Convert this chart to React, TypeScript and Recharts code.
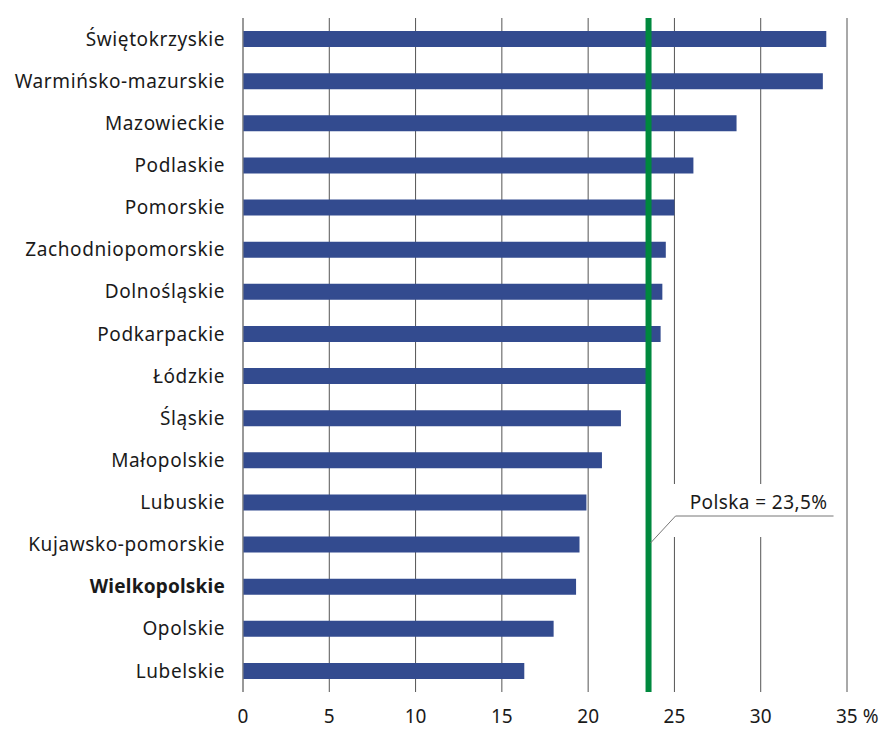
import React from 'react';
import { BarChart, Bar, XAxis, YAxis, CartesianGrid, ReferenceLine } from 'recharts';

const regions = [
  'Świętokrzyskie', 'Warmińsko-mazurskie', 'Mazowieckie', 'Podlaskie', 'Pomorskie',
  'Zachodniopomorskie', 'Dolnośląskie', 'Podkarpackie', 'Łódzkie', 'Śląskie',
  'Małopolskie', 'Lubuskie', 'Kujawsko-pomorskie', 'Wielkopolskie', 'Opolskie', 'Lubelskie',
];
const values = [33.8, 33.6, 28.6, 26.1, 25.0, 24.5, 24.3, 24.2, 23.4, 21.9, 20.8, 19.9, 19.5, 19.3, 18.0, 16.3];
const xTicks = [0, 5, 10, 15, 20, 25, 30, 35];
const polskaValue = 23.5;
const polskaLabel = 'Polska = 23,5%';
const highlighted = 'Wielkopolskie';

const data = regions.map((name, i) => ({ name, value: values[i] }));

const FONT = '"Noto Sans", sans-serif';

const YTick = (props: any) => {
  const { x, y, payload } = props;
  const bold = payload.value === highlighted;
  return (
    <text x={x - 10} y={y} dy="0.35em" textAnchor="end" fontFamily={FONT} fontSize={19}
      letterSpacing={bold ? 0.2 : 0.6} fontWeight={bold ? 700 : 400} fill="#1a1a1a">
      {payload.value}
    </text>
  );
};

const XTick = (props: any) => {
  const { x, y, payload } = props;
  if (payload.value === 35) {
    return (
      <text x={x - 11} y={y + 10} dy="0.71em" textAnchor="start" fontFamily={FONT} fontSize={19} fill="#1a1a1a">
        35 %
      </text>
    );
  }
  return (
    <text x={x} y={y + 10} dy="0.71em" textAnchor="middle" fontFamily={FONT} fontSize={19} fill="#1a1a1a">
      {payload.value}
    </text>
  );
};

const PolskaLabel = (props: any) => {
  const { viewBox } = props;
  const lx = viewBox.x;
  const top = viewBox.y;
  const yStart = top + 525;
  const yLine = top + 498;
  return (
    <g>
      <rect x={lx + 8} y={top + 466} width={182} height={53} fill="#ffffff" />
      <polyline points={`${lx + 2},${yStart} ${lx + 27},${yLine} ${lx + 185},${yLine}`}
        fill="none" stroke="#777" strokeWidth={1} />
      <text x={lx + 110} y={yLine - 14} dy="0.35em" textAnchor="middle" fontFamily={FONT} fontSize={19}
        letterSpacing={0.4} fill="#1a1a1a">
        {polskaLabel}
      </text>
    </g>
  );
};

export default function App() {
  return (
    <div style={{ position: 'absolute', left: 0, top: 0, background: '#fff' }}>
      <BarChart width={881} height={729} data={data} layout="vertical"
        margin={{ top: 18, right: 34, bottom: 0, left: 0 }} barCategoryGap={0}>
        <CartesianGrid horizontal={false} vertical={true} stroke="#555" strokeWidth={1} />
        <XAxis type="number" domain={[0, 35]} ticks={xTicks} axisLine={false} tickLine={false}
          height={37} tick={<XTick />} interval={0} />
        <YAxis type="category" dataKey="name" width={243} axisLine={{ stroke: '#888' }} tickLine={false}
          tick={<YTick />} interval={0} />
        <ReferenceLine x={35} stroke="#a8a8a8" strokeWidth={1.5} />
        <Bar dataKey="value" fill="#334b8f" barSize={16} isAnimationActive={false} />
        <ReferenceLine x={polskaValue} stroke="#00893e" strokeWidth={6} label={<PolskaLabel />} />
      </BarChart>
    </div>
  );
}
